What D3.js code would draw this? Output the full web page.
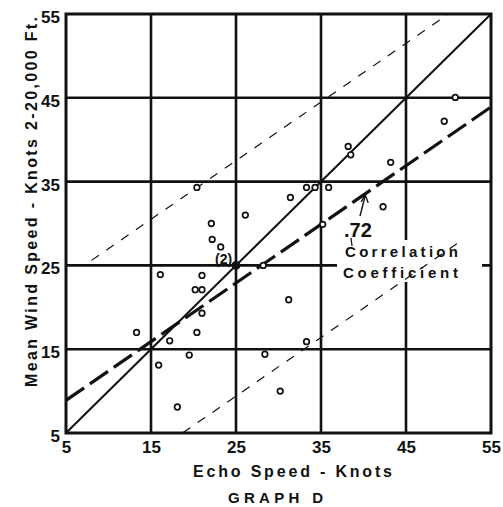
<!DOCTYPE html>
<html>
<head>
<meta charset="utf-8">
<script src="https://cdn.jsdelivr.net/npm/d3@7"></script>
<style>
  html, body { margin: 0; padding: 0; background: #fff; }
  svg { display: block; }
  text { font-family: "Liberation Sans", Arial, sans-serif; font-weight: bold; fill: #111; }
</style>
</head>
<body>
<svg id="chart" width="503" height="507"></svg>
<script>
// Echo speed (x) vs. mean wind speed 2–20,000 ft (y), knots
const echoSpeed = [13.3, 15.9, 16.1, 17.2, 18.1, 19.5, 20.2, 21.0, 20.4, 21.0, 21.0, 22.1, 22.2, 23.2, 26.1,
                   25.0, 25.0, 28.2, 28.4, 30.2, 31.2, 31.4, 33.3, 33.3, 34.3, 35.9, 35.2, 38.2, 38.5, 42.3,
                   43.2, 49.5, 50.8, 20.4];
const windSpeed = [17.0, 13.1, 23.9, 16.0, 8.1, 14.3, 22.1, 22.1, 17.0, 19.3, 23.8, 30.0, 28.1, 27.2, 31.0,
                   25.0, 25.0, 25.0, 14.4, 10.0, 20.9, 33.1, 15.9, 34.3, 34.3, 34.3, 29.9, 39.2, 38.2, 32.0,
                   37.3, 42.2, 45.05, 34.3];

const tickValues = [5, 15, 25, 35, 45, 55];
const gridValues = [15, 25, 35, 45];

// Regression line y = a + b·x and the parallel error-band lines
const regIntercept = 5.4;
const regSlope = 0.70;
const bandUpper = 14.6;
const bandLower = -13.5;
const correlation = ".72";

const xTitle = "Echo Speed - Knots";
const yTitle = "Mean Wind Speed - Knots  2-20,000 Ft.";
const graphTitle = "GRAPH D";

const svg = d3.select("#chart");
const x = d3.scaleLinear().domain([5, 55]).range([66, 491]);
const y = d3.scaleLinear().domain([5, 55]).range([433, 14]);

// Grid lines
const grid = svg.append("g");
grid.selectAll("line.v").data(gridValues).join("line")
  .attr("x1", d => x(d)).attr("x2", d => x(d))
  .attr("y1", y(55)).attr("y2", y(5))
  .attr("stroke", "#111").attr("stroke-width", 2.6);
grid.selectAll("line.h").data(gridValues).join("line")
  .attr("class", "h")
  .attr("y1", d => y(d)).attr("y2", d => y(d))
  .attr("x1", x(5)).attr("x2", x(55))
  .attr("stroke", "#111").attr("stroke-width", 2.6);

// Frame
svg.append("rect")
  .attr("x", x(5)).attr("y", y(55))
  .attr("width", x(55) - x(5)).attr("height", y(5) - y(55))
  .attr("fill", "none").attr("stroke", "#111").attr("stroke-width", 3);

// Clear space behind the correlation note
svg.append("rect")
  .attr("x", 337).attr("y", 240).attr("width", 145).attr("height", 42)
  .attr("fill", "#fff");

svg.append("clipPath").attr("id", "plotclip").append("rect")
  .attr("x", x(5)).attr("y", y(55))
  .attr("width", x(55) - x(5)).attr("height", y(5) - y(55));

const plot = svg.append("g").attr("clip-path", "url(#plotclip)");
const line = d3.line().x(d => x(d[0])).y(d => y(d[1]));

// 45° line (echo speed = wind speed)
plot.append("path")
  .attr("d", line([[5, 5], [55, 55]]))
  .attr("fill", "none").attr("stroke", "#111").attr("stroke-width", 2);

// Regression line
const reg = v => regIntercept + regSlope * v;
plot.append("path")
  .attr("d", line([[5, reg(5)], [55, reg(55)]]))
  .attr("fill", "none").attr("stroke", "#111").attr("stroke-width", 3.2)
  .attr("stroke-dasharray", "22,7");

// Error band lines
plot.append("path")
  .attr("d", line([[8, reg(8) + bandUpper], [52, reg(52) + bandUpper]]))
  .attr("fill", "none").attr("stroke", "#111").attr("stroke-width", 1.2)
  .attr("stroke-dasharray", "9,9");
plot.append("path")
  .attr("d", line([[17, reg(17) + bandLower], [51, reg(51) + bandLower]]))
  .attr("fill", "none").attr("stroke", "#111").attr("stroke-width", 1.2)
  .attr("stroke-dasharray", "9,9");

// Observations; coincident observations are drawn solid
const pts = echoSpeed.map((v, i) => [v, windSpeed[i]]);
const key = d => d[0] + "," + d[1];
const counts = d3.rollup(pts, v => v.length, key);
svg.append("g").selectAll("circle").data(pts).join("circle")
  .attr("cx", d => x(d[0])).attr("cy", d => y(d[1]))
  .attr("r", d => counts.get(key(d)) > 1 ? 3.2 : 2.8)
  .attr("fill", d => counts.get(key(d)) > 1 ? "#111" : "#fff")
  .attr("stroke", "#111").attr("stroke-width", 1.7);

// Axis tick labels
const xAxis = d3.axisBottom(x).tickValues(tickValues).tickSize(0).tickPadding(0).tickFormat(d3.format("d"));
const gx = svg.append("g").attr("transform", `translate(0,${y(5) + 8})`).call(xAxis);
gx.select(".domain").remove();
gx.selectAll("text").attr("font-size", 17).attr("dy", "0.71em")
  .style("font-family", "'Liberation Sans', Arial, sans-serif").style("font-weight", "bold").attr("fill", "#111");

const yAxis = d3.axisLeft(y).tickValues(tickValues).tickSize(0).tickPadding(0).tickFormat(d3.format("d"));
const gy = svg.append("g").attr("transform", `translate(${x(5) - 6},0)`).call(yAxis);
gy.select(".domain").remove();
gy.selectAll("text").attr("font-size", 17).attr("dy", "0.5em")
  .style("font-family", "'Liberation Sans', Arial, sans-serif").style("font-weight", "bold").attr("fill", "#111");

// Titles
svg.append("text").attr("x", 193).attr("y", 477)
  .attr("font-size", 16).attr("textLength", 199).attr("lengthAdjust", "spacing").text(xTitle);
svg.append("text").attr("x", 228).attr("y", 503)
  .attr("font-size", 15).attr("textLength", 95).attr("lengthAdjust", "spacing").text(graphTitle);
svg.append("text")
  .attr("transform", "translate(37,387) rotate(-90)")
  .attr("font-size", 16).attr("textLength", 370).attr("lengthAdjust", "spacing").text(yTitle);

// Notes
svg.append("text").attr("x", 215).attr("y", 264).attr("font-size", 14).attr("font-weight", "normal").text("(2)");
svg.append("text").attr("x", 344).attr("y", 237).attr("font-size", 20).attr("font-weight", "normal").text(correlation);
svg.append("text").attr("x", 345).attr("y", 257)
  .attr("font-size", 15).attr("textLength", 113).attr("lengthAdjust", "spacing").text("Correlation");
svg.append("text").attr("x", 343).attr("y", 278)
  .attr("font-size", 15).attr("textLength", 115).attr("lengthAdjust", "spacing").text("Coefficient");

// Pointer from the coefficient to the regression line
const ax = 40.2;
svg.append("line")
  .attr("x1", 360).attr("y1", 216).attr("x2", x(ax)).attr("y2", y(reg(ax)) + 2)
  .attr("stroke", "#111").attr("stroke-width", 1.4);
svg.append("path")
  .attr("d", `M${x(ax) - 4},${y(reg(ax)) + 8} L${x(ax)},${y(reg(ax)) + 1} L${x(ax) + 3},${y(reg(ax)) + 9}`)
  .attr("fill", "none").attr("stroke", "#111").attr("stroke-width", 1.4);
svg.append("line")
  .attr("x1", 351).attr("y1", 238).attr("x2", 352).attr("y2", 246)
  .attr("stroke", "#111").attr("stroke-width", 1.2);
</script>
</body>
</html>
